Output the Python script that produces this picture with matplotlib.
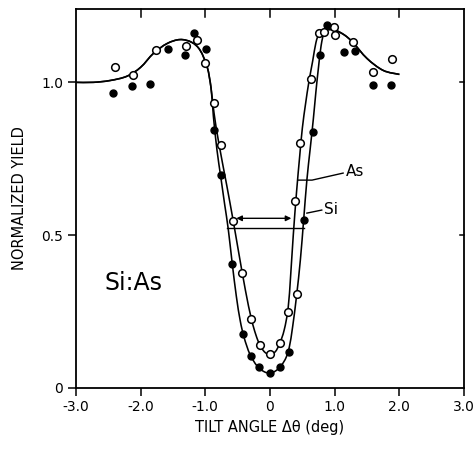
import matplotlib
matplotlib.use("Agg")
import matplotlib.pyplot as plt
from matplotlib.path import Path
from matplotlib.patches import PathPatch

# ---- fitted curves (vertices) ----
as_curve_x = [-3.0, -2.73, -2.47, -2.21, -2.0, -1.8, -1.59, -1.39, -1.21, -1.08, -0.97, -0.91,
              -0.865, -0.79, -0.67, -0.57, -0.49, -0.38, -0.29, -0.22, -0.15, -0.07, 0.0, 0.08,
              0.15, 0.22, 0.28, 0.32, 0.36, 0.41, 0.46, 0.50, 0.55, 0.60, 0.66, 0.71, 0.76,
              0.82, 0.92, 1.02, 1.15, 1.28, 1.5, 1.75, 2.0]
as_curve_y = [1.0, 1.0, 1.006, 1.02, 1.049, 1.095, 1.127, 1.14, 1.131, 1.105, 1.05, 0.98,
              0.90, 0.80, 0.665, 0.549, 0.451, 0.32, 0.228, 0.175, 0.137, 0.115, 0.111, 0.118,
              0.145, 0.19, 0.26, 0.37, 0.50, 0.64, 0.76, 0.85, 0.93, 1.0, 1.07, 1.13, 1.16,
              1.168, 1.172, 1.17, 1.155, 1.131, 1.078, 1.039, 1.026]

si_curve_x = [-3.0, -2.73, -2.47, -2.21, -2.0, -1.8, -1.59, -1.39, -1.21, -1.08, -0.97, -0.91,
              -0.875, -0.82, -0.76, -0.70, -0.645, -0.585, -0.52, -0.46, -0.40, -0.31, -0.20,
              -0.09, 0.0, 0.09, 0.18, 0.25, 0.30, 0.35, 0.41, 0.47, 0.52, 0.57, 0.62, 0.67,
              0.71, 0.75, 0.79, 0.84, 0.88, 0.95, 1.02, 1.15, 1.28, 1.5, 1.75, 2.0]
si_curve_y = [1.0, 1.0, 1.006, 1.02, 1.049, 1.095, 1.127, 1.14, 1.131, 1.105, 1.05, 0.98,
              0.89, 0.78, 0.69, 0.60, 0.52, 0.41, 0.30, 0.22, 0.165, 0.11, 0.072,
              0.053, 0.049, 0.056, 0.075, 0.10, 0.135, 0.20, 0.30, 0.42, 0.549, 0.68, 0.78, 0.88,
              0.97, 1.05, 1.12, 1.17, 1.186, 1.18, 1.17, 1.155, 1.131, 1.078, 1.039, 1.026]

# ---- measured points ----
as_x = [-2.40, -2.12, -1.76, -1.30, -1.13, -1.01, -0.87, -0.75, -0.57, -0.43, -0.29, -0.15,
        0.0, 0.15, 0.28, 0.42, 0.38, 0.47, 0.63, 0.75, 0.83, 0.99, 1.01, 1.28, 1.59, 1.89]
as_y = [1.049, 1.023, 1.105, 1.118, 1.137, 1.062, 0.931, 0.794, 0.546, 0.376, 0.227, 0.139,
        0.111, 0.146, 0.248, 0.307, 0.611, 0.80, 1.01, 1.162, 1.165, 1.18, 1.155, 1.131, 1.033, 1.075]

si_x = [-2.43, -2.13, -1.85, -1.58, -1.31, -1.17, -0.99, -0.87, -0.75, -0.59, -0.42, -0.30,
        -0.17, 0.0, 0.16, 0.30, 0.53, 0.66, 0.77, 0.88, 1.14, 1.31, 1.59, 1.87]
si_y = [0.964, 0.987, 0.993, 1.108, 1.088, 1.163, 1.108, 0.843, 0.696, 0.406, 0.178, 0.105,
        0.069, 0.049, 0.069, 0.116, 0.549, 0.839, 1.088, 1.188, 1.099, 1.101, 0.99, 0.99]

x_ticks = [-3.0, -2.0, -1.0, 0.0, 1.0, 2.0, 3.0]
x_ticklabels = ["-3.0", "-2.0", "-1.0", "0", "1.0", "2.0", "3.0"]
y_ticks = [0.0, 0.5, 1.0]
y_ticklabels = ["0", "0.5", "1.0"]


def smooth_path(xs, ys):
    """Bezier path through the traced vertices (Catmull-Rom style smoothing)."""
    pts = list(zip(xs, ys))
    n = len(pts)
    verts = [pts[0]]
    codes = [Path.MOVETO]
    for i in range(n - 1):
        p0 = pts[i - 1] if i > 0 else pts[i]
        p1 = pts[i]
        p2 = pts[i + 1]
        p3 = pts[i + 2] if i + 2 < n else pts[i + 1]
        c1 = (p1[0] + (p2[0] - p0[0]) / 6.0, p1[1] + (p2[1] - p0[1]) / 6.0)
        c2 = (p2[0] - (p3[0] - p1[0]) / 6.0, p2[1] - (p3[1] - p1[1]) / 6.0)
        verts += [c1, c2, p2]
        codes += [Path.CURVE4] * 3
    return Path(verts, codes)


fig = plt.figure(figsize=(4.77, 4.5), dpi=100)
ax = fig.add_axes([0.159, 0.138, 0.814, 0.842])

lw = 1.15
for cx, cy in ((as_curve_x, as_curve_y), (si_curve_x, si_curve_y)):
    ax.add_patch(PathPatch(smooth_path(cx, cy), facecolor="none", edgecolor="black",
                           lw=lw, zorder=2))
ax.plot(as_x, as_y, linestyle="none", marker="o", ms=5.5, mfc="white", mec="black",
        mew=1.1, zorder=3)
ax.plot(si_x, si_y, linestyle="none", marker="o", ms=5, mfc="black", mec="black", zorder=3)

# FWHM indicators
ax.annotate("", xy=(-0.52, 0.555), xytext=(0.33, 0.555),
            arrowprops=dict(arrowstyle="<|-|>", color="black", lw=1.0,
                            mutation_scale=8, shrinkA=0, shrinkB=0))
ax.plot([-0.66, 0.53], [0.522, 0.522], color="black", lw=1.0)

# labels with leaders
ax.plot([0.44, 0.65, 1.13], [0.68, 0.68, 0.703], color="black", lw=1.0)
ax.text(1.17, 0.709, "As", fontsize=11, va="center", ha="left")
ax.plot([0.57, 0.80], [0.572, 0.582], color="black", lw=1.0)
ax.text(0.84, 0.585, "Si", fontsize=11, va="center", ha="left")

ax.text(-2.55, 0.343, "Si:As", fontsize=17, va="center", ha="left")

ax.set_xlim(-3.0, 3.0)
ax.set_ylim(0.0, 1.24)
ax.set_xticks(x_ticks)
ax.set_xticklabels(x_ticklabels, fontsize=10)
ax.set_yticks(y_ticks)
ax.set_yticklabels(y_ticklabels, fontsize=10)
ax.tick_params(axis="both", which="both", direction="out", length=6, width=1.1,
               top=False, right=False)
ax.tick_params(axis="both", labelsize=10, pad=3)

# inward ticks on top and right
for xt in x_ticks[1:-1]:
    ax.plot([xt, xt], [1.24, 1.215], color="black", lw=1.1, clip_on=False)
for yt in [0.5, 1.0]:
    ax.plot([3.0, 2.93], [yt, yt], color="black", lw=1.1, clip_on=False)

for s in ax.spines.values():
    s.set_linewidth(1.3)

ax.set_xlabel("TILT ANGLE Δθ (deg)", fontsize=10.5, labelpad=4)
ax.set_ylabel("NORMALIZED YIELD", fontsize=10.5, labelpad=10)

fig.savefig("out.png", dpi=100)
